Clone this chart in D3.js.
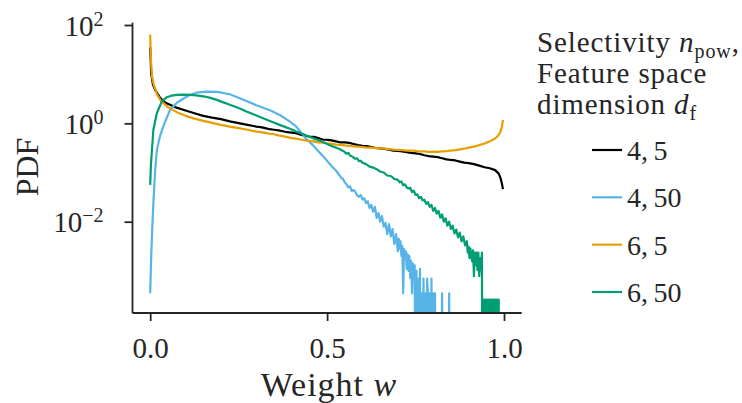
<!DOCTYPE html>
<html>
<head>
<meta charset="utf-8">
<script src="https://cdn.jsdelivr.net/npm/d3@7"></script>
<style>
  body { margin: 0; background: #fff; }
  svg { display: block; }
  text { font-family: "Liberation Serif", "DejaVu Serif", serif; fill: #262626; }
</style>
</head>
<body>
<svg id="chart" width="742" height="403"></svg>
<script>
// histogram PDFs of the weight w, one array of [w, pdf] per (n_pow, d_f)
const pdf_4_5 = [
  [0, 35], [0.003, 9.8], [0.008, 6.1], [0.014, 4.8], [0.028, 3.3], [0.042, 2.65], [0.07, 2.14],
  [0.1, 1.82], [0.125, 1.6], [0.15, 1.42], [0.175, 1.31], [0.2, 1.22], [0.225, 1.1], [0.25, 1.01],
  [0.275, 0.93], [0.3, 0.86], [0.3125, 0.84], [0.325, 0.8], [0.3375, 0.76], [0.35, 0.74], [0.3625, 0.72],
  [0.375, 0.69], [0.3875, 0.66], [0.4, 0.65], [0.4125, 0.63], [0.425, 0.59], [0.4375, 0.56], [0.45, 0.54],
  [0.4625, 0.53], [0.475, 0.5], [0.4875, 0.47], [0.5, 0.46], [0.5125, 0.45], [0.525, 0.43], [0.5375, 0.41],
  [0.55, 0.41], [0.5625, 0.4], [0.575, 0.38], [0.5875, 0.36], [0.6, 0.35], [0.6125, 0.345], [0.625, 0.33],
  [0.6375, 0.315], [0.65, 0.31], [0.6625, 0.303], [0.675, 0.29], [0.6875, 0.279], [0.7, 0.275],
  [0.7125, 0.27], [0.725, 0.26], [0.7375, 0.25], [0.75, 0.245], [0.7625, 0.238], [0.775, 0.225],
  [0.7875, 0.215], [0.8, 0.21], [0.8125, 0.205], [0.825, 0.195], [0.8375, 0.185], [0.85, 0.18],
  [0.8625, 0.176], [0.875, 0.167], [0.8875, 0.159], [0.9, 0.155], [0.915, 0.148], [0.93, 0.138],
  [0.945, 0.128], [0.96, 0.122], [0.975, 0.112], [0.985, 0.095], [0.99, 0.078], [0.994, 0.06], [0.997, 0.046]
];

const pdf_4_50 = [
  [0, 3.5e-4], [0.001, 6.5e-4], [0.003, 2.1e-3], [0.006, 7.9e-3], [0.0094, 2.75e-2], [0.014, 0.11],
  [0.019, 0.29], [0.028, 0.56], [0.037, 0.87], [0.056, 1.88], [0.075, 2.6], [0.093, 3.16], [0.11, 3.7],
  [0.13, 4.2], [0.16, 4.4], [0.19, 4.37], [0.225, 3.9], [0.26, 3.1], [0.3, 2.34], [0.34, 1.82],
  [0.366, 1.48], [0.39, 1.15], [0.413, 0.86], [0.44, 0.49], [0.46, 0.36], [0.48, 0.25], [0.495, 0.19],
  [0.507, 0.15], [0.515, 0.13], [0.525, 0.11], [0.535, 0.088], [0.54, 0.078], [0.545, 0.074],
  [0.55, 6.3e-2], [0.555, 5.75e-2], [0.56, 5.0e-2], [0.565, 5.2e-2], [0.57, 4.2e-2], [0.575, 4.4e-2],
  [0.58, 4.0e-2], [0.585, 3.4e-2], [0.59, 3.2e-2], [0.595, 3.5e-2], [0.6, 2.8e-2], [0.605, 3.0e-2],
  [0.61, 2.4e-2], [0.615, 2.6e-2], [0.62, 1.9e-2], [0.625, 2.2e-2], [0.63, 1.6e-2], [0.635, 2.0e-2],
  [0.64, 1.2e-2], [0.645, 1.5e-2], [0.65, 1.0e-2], [0.655, 1.3e-2], [0.66, 7.9e-3], [0.665, 9.5e-3],
  [0.67, 5.6e-3], [0.675, 8.9e-3], [0.68, 5.0e-3], [0.685, 7.1e-3], [0.69, 3.5e-3], [0.695, 5.6e-3],
  [0.7, 2.5e-3], [0.7025, 4.5e-3], [0.705, 2.8e-3], [0.7075, 4.0e-3], [0.71, 2.0e-3], [0.7125, 3.2e-3],
  [0.715, 3.5e-4], [0.7175, 2.8e-3], [0.72, 1.8e-3], [0.7225, 2.5e-3], [0.725, 1.1e-3], [0.7275, 2.2e-3],
  [0.73, 1.0e-3], [0.7325, 2.0e-3], [0.735, 7.1e-4], [0.7375, 1.6e-3], [0.74, 3.5e-4], [0.7425, 1.4e-3],
  [0.745, 7.0e-4], [0.7475, 1.3e-3], [0.75, 0], [0.7525, 1.0e-3], [0.755, 0], [0.7575, 7.0e-4],
  [0.76, 0], [0.7625, 1.1e-3], [0.765, 0], [0.7675, 3.5e-4], [0.77, 0], [0.7725, 7.0e-4], [0.775, 0],
  [0.7775, 3.5e-4], [0.78, 0], [0.7825, 7.0e-4], [0.785, 3.5e-4], [0.7875, 0], [0.79, 3.5e-4],
  [0.7925, 0], [0.795, 7.0e-4], [0.7975, 0], [0.8, 3.5e-4], [0.8025, 0], [0.805, 3.5e-4], [0.8075, 0],
  [0.8225, 0], [0.825, 3.5e-4], [0.8275, 0], [0.8425, 0], [0.845, 3.5e-4], [0.8475, 0], [0.86, 0]
];

const pdf_6_5 = [
  [0, 64], [0.002, 20], [0.005, 9.0], [0.01, 6.1], [0.02, 3.8], [0.03, 2.9], [0.05, 2.14], [0.075, 1.69],
  [0.1, 1.42], [0.125, 1.25], [0.15, 1.12], [0.175, 1.02], [0.2, 0.93], [0.225, 0.86], [0.25, 0.8],
  [0.275, 0.74], [0.3, 0.68], [0.3125, 0.665], [0.325, 0.64], [0.3375, 0.615], [0.35, 0.6], [0.3625, 0.57],
  [0.375, 0.55], [0.3875, 0.525], [0.4, 0.5], [0.4125, 0.49], [0.425, 0.47], [0.4375, 0.45], [0.45, 0.44],
  [0.4625, 0.43], [0.475, 0.41], [0.4875, 0.405], [0.5, 0.39], [0.5125, 0.382], [0.525, 0.37],
  [0.5375, 0.365], [0.55, 0.355], [0.5625, 0.348], [0.575, 0.34], [0.5875, 0.337], [0.6, 0.33],
  [0.6125, 0.322], [0.625, 0.32], [0.6375, 0.312], [0.65, 0.31], [0.6625, 0.306], [0.675, 0.3],
  [0.6875, 0.292], [0.7, 0.29], [0.7125, 0.286], [0.725, 0.28], [0.7375, 0.279], [0.75, 0.275],
  [0.7625, 0.268], [0.775, 0.27], [0.7875, 0.264], [0.8, 0.266], [0.8125, 0.263], [0.825, 0.268],
  [0.8375, 0.272], [0.85, 0.28], [0.8625, 0.285], [0.875, 0.295], [0.8875, 0.305], [0.9, 0.32],
  [0.915, 0.335], [0.93, 0.36], [0.945, 0.39], [0.96, 0.43], [0.975, 0.49], [0.985, 0.58], [0.99, 0.68],
  [0.994, 0.85], [0.997, 1.18]
];

const pdf_6_50 = [
  [0, 0.056], [0.002, 0.14], [0.005, 0.29], [0.009, 0.74], [0.019, 1.62], [0.033, 2.8], [0.047, 3.4],
  [0.06, 3.65], [0.075, 3.8], [0.095, 3.85], [0.113, 3.8], [0.13, 3.7], [0.15, 3.55], [0.17, 3.3],
  [0.188, 3.0], [0.205, 2.7], [0.225, 2.39], [0.25, 2.05], [0.272, 1.74], [0.295, 1.5], [0.319, 1.27],
  [0.34, 1.1], [0.366, 0.93], [0.39, 0.8], [0.413, 0.68], [0.435, 0.59], [0.46, 0.5], [0.485, 0.43],
  [0.507, 0.36], [0.52, 0.33], [0.535, 0.3], [0.545, 0.275],
  [0.55, 0.26], [0.555, 0.24], [0.56, 0.25], [0.565, 0.22], [0.57, 0.214], [0.575, 0.2], [0.58, 0.19],
  [0.585, 0.195], [0.59, 0.17], [0.595, 0.174], [0.6, 0.158], [0.61, 0.148], [0.62, 0.132], [0.63, 0.126],
  [0.64, 0.117], [0.65, 0.105], [0.66, 0.1], [0.67, 0.087], [0.68, 0.085], [0.69, 0.074], [0.7, 0.071],
  [0.705, 0.063], [0.71, 0.066], [0.715, 0.055], [0.72, 0.0575], [0.725, 0.05], [0.73, 0.047],
  [0.735, 0.049], [0.74, 0.04], [0.745, 0.043], [0.75, 0.035], [0.755, 0.036], [0.76, 0.03],
  [0.765, 0.032], [0.77, 0.027], [0.775, 0.028], [0.78, 0.023], [0.785, 0.025], [0.79, 0.02],
  [0.795, 0.022], [0.8, 0.0166], [0.805, 0.019], [0.81, 0.0145], [0.815, 0.0166], [0.82, 0.012],
  [0.825, 0.014], [0.83, 0.01], [0.835, 0.0117], [0.84, 0.0083], [0.845, 0.01], [0.85, 0.0071],
  [0.855, 0.0083], [0.86, 0.00575], [0.865, 0.0069], [0.87, 0.0048], [0.875, 0.006], [0.88, 0.004],
  [0.885, 0.005], [0.89, 0.0033], [0.895, 0.004], [0.8975, 2.34e-3], [0.9, 3.12e-3], [0.9025, 1.82e-3],
  [0.905, 2.86e-3], [0.9075, 2.08e-3], [0.91, 1.56e-3], [0.9125, 2.6e-3], [0.915, 7.8e-4],
  [0.9175, 2.34e-3], [0.92, 1.3e-3], [0.9225, 2.34e-3], [0.925, 1.04e-3], [0.9275, 2.34e-3],
  [0.93, 7.8e-4], [0.9325, 1.82e-3], [0.935, 1.04e-3], [0.9375, 2.34e-3], [0.94, 0], [0.9425, 2.6e-4],
  [0.945, 0], [0.9475, 2.6e-4], [0.95, 2.6e-4], [0.9525, 0], [0.955, 2.6e-4], [0.9575, 0],
  [0.96, 2.6e-4], [0.9625, 2.6e-4], [0.965, 0], [0.9675, 2.6e-4], [0.97, 0], [0.9725, 2.6e-4],
  [0.975, 2.6e-4], [0.9775, 0], [0.98, 2.6e-4], [0.9825, 0], [0.985, 2.6e-4], [0.9875, 0], [1.0, 0]
];

const seriesLabels = [["4", "5"], ["4", "50"], ["6", "5"], ["6", "50"]];
const seriesData = [pdf_4_5, pdf_4_50, pdf_6_5, pdf_6_50];
const seriesColors = ["#000000", "#56B4E9", "#E69F00", "#009E73"];

const xTicks = [0, 0.5, 1.0];
const yTickExps = [-2, 0, 2];

const svg = d3.select("#chart");
const plot = {left: 132.5, right: 521.7, top: 22.7, bottom: 313};

const x = d3.scaleLinear().domain([-0.05, 1.05]).range([plot.left, plot.right]);
const y = d3.scaleLog().domain([1.39e-4, 111.4]).range([plot.bottom, plot.top]);

svg.append("clipPath").attr("id", "plotclip")
  .append("rect")
  .attr("x", plot.left).attr("y", plot.top)
  .attr("width", plot.right - plot.left).attr("height", plot.bottom - plot.top);

const line = d3.line()
  .x(d => x(d[0]))
  .y(d => y(Math.max(d[1], 1e-7)));

svg.append("g").attr("clip-path", "url(#plotclip)")
  .selectAll("path")
  .data(seriesData)
  .enter().append("path")
  .attr("d", line)
  .attr("fill", "none")
  .attr("stroke", (d, i) => seriesColors[i])
  .attr("stroke-width", 2.2)
  .attr("stroke-linejoin", "round");

// axes
const xAxis = svg.append("g")
  .attr("transform", `translate(0,${plot.bottom})`)
  .call(d3.axisBottom(x).tickValues(xTicks).tickSize(8).tickFormat(d3.format(".1f")));
xAxis.select(".domain").attr("d", `M${plot.left},0H${plot.right}`);

const yAxis = svg.append("g")
  .attr("transform", `translate(${plot.left},0)`)
  .call(d3.axisLeft(y).tickValues(yTickExps.map(e => Math.pow(10, e))).tickSize(8).tickFormat(""));
yAxis.select(".domain").attr("d", `M0,${plot.top}V${plot.bottom}`);

svg.selectAll(".domain").attr("stroke", "#262626").attr("stroke-width", 1.8);
svg.selectAll(".tick line").attr("stroke", "#262626").attr("stroke-width", 1.8);

xAxis.selectAll(".tick text")
  .attr("y", 45).attr("dy", null)
  .attr("fill", "#262626")
  .style("font-size", "29px").style("font-family", "Liberation Serif, serif");

yAxis.selectAll(".tick").each(function(d) {
  const t = d3.select(this).append("text")
    .attr("x", -29).attr("y", 10)
    .attr("text-anchor", "end")
    .style("font-size", "29px");
  t.append("tspan").text("10");
  t.append("tspan").attr("dy", -10).style("font-size", "20px")
    .text(String(Math.round(Math.log10(d))).replace("-", "\u2212"));
});

// axis labels
const xl = svg.append("text")
  .attr("x", 329).attr("y", 396)
  .attr("text-anchor", "middle")
  .style("font-size", "34px")
  .style("letter-spacing", "1px");
xl.append("tspan").text("Weight ");
xl.append("tspan").style("font-style", "italic").text("w");

svg.append("text")
  .attr("transform", "translate(38,167) rotate(-90)")
  .attr("text-anchor", "middle")
  .style("font-size", "32px")
  .text("PDF");

// legend
const lg = svg.append("g").style("letter-spacing", "0.9px");
const titleX = 537;
const titleSize = "29px";
const t1 = lg.append("text").attr("x", titleX).attr("y", 52).style("font-size", titleSize);
t1.append("tspan").text("Selectivity ");
t1.append("tspan").style("font-style", "italic").text("n");
t1.append("tspan").attr("dy", 6).style("font-size", "20px").text("pow");
t1.append("tspan").attr("dy", -6).text(",");
lg.append("text").attr("x", titleX).attr("y", 83).style("font-size", titleSize).text("Feature space");
const t3 = lg.append("text").attr("x", titleX).attr("y", 114).style("font-size", titleSize);
t3.append("tspan").text("dimension ");
t3.append("tspan").style("font-style", "italic").text("d");
t3.append("tspan").attr("dy", 6).style("font-size", "20px").text("f");

const legendY = d3.scaleLinear().domain([0, 3]).range([150, 292]);
const items = lg.selectAll(".item")
  .data(seriesLabels)
  .enter().append("g")
  .attr("class", "item")
  .attr("transform", (d, i) => `translate(0,${legendY(i)})`);
items.append("line")
  .attr("x1", 592).attr("x2", 622)
  .attr("stroke", (d, i) => seriesColors[i])
  .attr("stroke-width", 2.2);
items.append("text")
  .attr("x", 627).attr("y", 10)
  .style("font-size", "28px")
  .style("letter-spacing", "0px")
  .text(d => d[0] + ",\u2009" + d[1]);
</script>
</body>
</html>
